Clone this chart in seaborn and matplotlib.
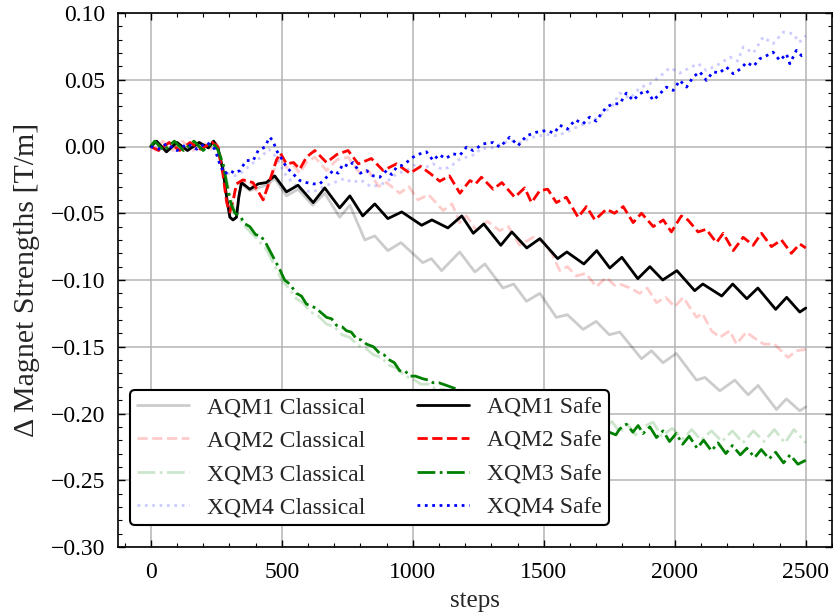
import matplotlib
matplotlib.use("Agg")
import matplotlib.pyplot as plt
import pandas as pd
import seaborn as sns
from matplotlib.ticker import MultipleLocator

# (step, delta strength [T/m]) vertices for each magnet and agent
aqm1_classical = [
    (0, 0.0), (22, 0.004), (60, -0.004), (100, 0.003), (140, -0.003), (185, 0.003),
    (220, -0.001), (240, 0.004), (257, -0.0015), (276, -0.018), (291, -0.040),
    (302, -0.053), (314, -0.055), (327, -0.053), (336, -0.038), (346, -0.028),
    (378, -0.033), (441, -0.029), (473, -0.024), (518, -0.037), (562, -0.032),
    (618, -0.044), (664, -0.035), (721, -0.053), (760, -0.044), (817, -0.070),
    (855, -0.067), (905, -0.078), (955, -0.072), (1038, -0.087), (1071, -0.084),
    (1110, -0.093), (1179, -0.079), (1237, -0.094), (1275, -0.088), (1344, -0.106),
    (1385, -0.103), (1434, -0.116), (1485, -0.110), (1548, -0.128), (1590, -0.126),
    (1650, -0.137), (1700, -0.131), (1750, -0.141), (1790, -0.139), (1873, -0.159),
    (1911, -0.153), (1955, -0.162), (2006, -0.155), (2083, -0.175), (2115, -0.173),
    (2172, -0.183), (2229, -0.175), (2280, -0.186), (2318, -0.179), (2388, -0.197),
    (2426, -0.189), (2477, -0.198), (2500, -0.195),
]
aqm2_classical = [
    (0, 0.0), (20, -0.003), (45, 0.004), (85, -0.003), (120, 0.004), (160, -0.003),
    (200, 0.003), (230, -0.002), (250, 0.003), (262, -0.002), (275, -0.020),
    (290, -0.042), (302, -0.049), (315, -0.040), (327, -0.028), (352, -0.026),
    (390, -0.029), (429, -0.040), (455, -0.027), (480, -0.012), (495, -0.007),
    (518, -0.016), (545, -0.014), (569, -0.020), (594, -0.012), (626, -0.008),
    (671, -0.018), (710, -0.010), (753, -0.008), (798, -0.020), (830, -0.018),
    (870, -0.030), (900, -0.027), (950, -0.035), (985, -0.030), (1020, -0.040),
    (1060, -0.036), (1116, -0.048), (1150, -0.043), (1179, -0.057), (1205, -0.052),
    (1243, -0.063), (1285, -0.056), (1332, -0.063), (1365, -0.060), (1408, -0.074),
    (1459, -0.068), (1500, -0.072), (1530, -0.080), (1561, -0.093), (1590, -0.090),
    (1625, -0.097), (1660, -0.095), (1701, -0.105), (1739, -0.098), (1770, -0.104),
    (1790, -0.103), (1830, -0.106), (1866, -0.110), (1895, -0.106), (1930, -0.117),
    (1965, -0.113), (2000, -0.120), (2032, -0.113), (2083, -0.128), (2105, -0.125),
    (2140, -0.138), (2172, -0.143), (2210, -0.138), (2235, -0.148), (2273, -0.139),
    (2300, -0.143), (2340, -0.148), (2380, -0.148), (2432, -0.158), (2464, -0.153),
    (2500, -0.152),
]
xqm3_classical = [
    (0, 0.0), (15, 0.004), (50, -0.003), (90, 0.004), (125, -0.003), (165, 0.004),
    (200, -0.003), (235, 0.003), (255, -0.002), (276, -0.012), (291, -0.026),
    (310, -0.042), (330, -0.052), (360, -0.060), (400, -0.068), (441, -0.077),
    (470, -0.088), (500, -0.100), (530, -0.107), (556, -0.114), (580, -0.117),
    (610, -0.124), (640, -0.127), (671, -0.133), (700, -0.135), (730, -0.141),
    (760, -0.143), (790, -0.149), (820, -0.151), (850, -0.156), (880, -0.158),
    (910, -0.164), (940, -0.166), (970, -0.172), (1000, -0.174), (1030, -0.178),
    (1060, -0.178), (1090, -0.182), (1120, -0.182), (1150, -0.185), (1250, -0.190),
    (1350, -0.195), (1450, -0.199), (1550, -0.203), (1650, -0.207), (1700, -0.204),
    (1730, -0.211), (1760, -0.206), (1790, -0.214), (1820, -0.208), (1850, -0.216),
    (1880, -0.210), (1917, -0.2065), (1950, -0.217), (1990, -0.211), (2030, -0.219),
    (2065, -0.212), (2100, -0.220), (2140, -0.213), (2180, -0.221), (2220, -0.213),
    (2260, -0.222), (2300, -0.213), (2340, -0.221), (2380, -0.212), (2420, -0.222),
    (2455, -0.212), (2500, -0.222),
]
xqm4_classical = [
    (0, 0.0), (30, -0.002), (60, 0.002), (100, -0.003), (140, 0.002), (175, -0.002),
    (215, 0.003), (245, -0.002), (265, -0.012), (290, -0.020), (320, -0.022),
    (350, -0.019), (380, -0.014), (420, -0.008), (450, -0.002), (480, -0.008),
    (510, -0.020), (545, -0.028), (580, -0.033), (620, -0.034), (660, -0.030),
    (700, -0.027), (740, -0.024), (770, -0.027), (800, -0.025), (840, -0.030),
    (874, -0.029), (910, -0.025), (938, -0.0205), (975, -0.018), (1014, -0.013),
    (1045, -0.016), (1078, -0.013), (1110, -0.017), (1141, -0.0155), (1175, -0.010),
    (1205, -0.008), (1243, -0.0055), (1256, -0.0017), (1300, -0.001), (1340, 0.002),
    (1370, 0.0045), (1410, 0.003), (1459, 0.007), (1510, 0.009), (1550, 0.008),
    (1600, 0.012), (1640, 0.016), (1680, 0.018), (1720, 0.024), (1760, 0.030),
    (1790, 0.040), (1830, 0.036), (1866, 0.044), (1905, 0.047), (1940, 0.052),
    (1981, 0.059), (2020, 0.055), (2057, 0.059), (2090, 0.062), (2120, 0.057),
    (2172, 0.062), (2210, 0.067), (2240, 0.064), (2261, 0.0745), (2300, 0.070),
    (2337, 0.082), (2375, 0.077), (2414, 0.0857), (2452, 0.0845), (2475, 0.078),
    (2500, 0.083),
]

aqm1_safe = [
    (0, 0.0), (22, 0.004), (60, -0.004), (100, 0.003), (140, -0.003), (185, 0.003),
    (220, -0.001), (240, 0.004), (257, -0.0015), (276, -0.018), (291, -0.040),
    (302, -0.053), (314, -0.055), (327, -0.053), (336, -0.038), (346, -0.027),
    (378, -0.032), (410, -0.028), (441, -0.027), (473, -0.022), (518, -0.034),
    (562, -0.029), (620, -0.042), (664, -0.031), (721, -0.046), (760, -0.037),
    (809, -0.052), (855, -0.043), (905, -0.054), (958, -0.049), (1034, -0.059),
    (1073, -0.055), (1134, -0.061), (1187, -0.052), (1231, -0.065), (1271, -0.058),
    (1336, -0.074), (1378, -0.064), (1435, -0.076), (1485, -0.069), (1553, -0.084),
    (1588, -0.079), (1653, -0.088), (1702, -0.078), (1752, -0.091), (1798, -0.083),
    (1859, -0.099), (1905, -0.090), (1954, -0.100), (2008, -0.093), (2076, -0.108),
    (2107, -0.103), (2179, -0.112), (2221, -0.103), (2275, -0.114), (2317, -0.106),
    (2385, -0.122), (2427, -0.113), (2477, -0.124), (2500, -0.121),
]
aqm2_safe = [
    (0, 0.0), (30, -0.003), (70, 0.003), (110, -0.003), (150, 0.003), (190, -0.002),
    (235, 0.003), (255, 0.0), (275, -0.020), (290, -0.042), (302, -0.049),
    (315, -0.040), (327, -0.028), (352, -0.025), (390, -0.027), (429, -0.040),
    (455, -0.025), (480, -0.010), (495, -0.005), (518, -0.013), (545, -0.012),
    (569, -0.017), (594, -0.008), (626, -0.003), (671, -0.012), (710, -0.006),
    (753, -0.003), (792, -0.013), (842, -0.009), (887, -0.018), (938, -0.013),
    (989, -0.020), (1030, -0.015), (1065, -0.020), (1103, -0.026), (1140, -0.022),
    (1180, -0.035), (1218, -0.0255), (1240, -0.028), (1262, -0.023), (1307, -0.032),
    (1340, -0.027), (1389, -0.038), (1427, -0.031), (1453, -0.042), (1485, -0.033),
    (1515, -0.032), (1548, -0.042), (1586, -0.038), (1631, -0.053), (1663, -0.045),
    (1695, -0.055), (1739, -0.047), (1770, -0.050), (1803, -0.045), (1841, -0.057),
    (1873, -0.050), (1918, -0.060), (1956, -0.055), (1987, -0.064), (2025, -0.052),
    (2050, -0.055), (2089, -0.064), (2120, -0.062), (2159, -0.072), (2185, -0.065),
    (2223, -0.078), (2261, -0.068), (2299, -0.074), (2331, -0.065), (2369, -0.075),
    (2407, -0.070), (2445, -0.080), (2477, -0.073), (2500, -0.076),
]
xqm3_safe = [
    (0, 0.0), (15, 0.004), (50, -0.003), (90, 0.004), (125, -0.003), (165, 0.004),
    (200, -0.003), (235, 0.003), (255, -0.002), (276, -0.013), (291, -0.029),
    (305, -0.042), (321, -0.050), (340, -0.052), (360, -0.058), (378, -0.060),
    (400, -0.066), (420, -0.067), (441, -0.073), (465, -0.082), (492, -0.092),
    (511, -0.100), (530, -0.103), (556, -0.110), (575, -0.112), (594, -0.118),
    (630, -0.121), (671, -0.128), (690, -0.129), (709, -0.134), (730, -0.135),
    (747, -0.138), (765, -0.139), (785, -0.144), (805, -0.145), (823, -0.148),
    (850, -0.150), (874, -0.155), (890, -0.156), (912, -0.160), (930, -0.162),
    (950, -0.168), (970, -0.168), (989, -0.172), (1010, -0.172), (1039, -0.174),
    (1060, -0.175), (1078, -0.177), (1100, -0.177), (1129, -0.179), (1200, -0.184),
    (1300, -0.190), (1400, -0.196), (1500, -0.201), (1600, -0.206), (1700, -0.210),
    (1775, -0.216), (1790, -0.2115), (1815, -0.208), (1840, -0.214), (1860, -0.209),
    (1879, -0.215), (1905, -0.210), (1930, -0.218), (1955, -0.213), (1980, -0.221),
    (2005, -0.215), (2030, -0.223), (2055, -0.217), (2085, -0.226), (2110, -0.220),
    (2140, -0.228), (2165, -0.222), (2195, -0.230), (2220, -0.224), (2250, -0.231),
    (2275, -0.226), (2305, -0.233), (2330, -0.227), (2360, -0.234), (2385, -0.229),
    (2415, -0.237), (2440, -0.231), (2470, -0.238), (2500, -0.235),
]
xqm4_safe = [
    (0, 0.0), (30, -0.002), (60, 0.002), (100, -0.003), (140, 0.002), (175, -0.002),
    (215, 0.003), (245, -0.002), (263, -0.013), (282, -0.0205), (302, -0.018),
    (320, -0.020), (340, -0.018), (365, -0.0105), (391, -0.0105), (410, -0.003),
    (435, -0.0005), (454, 0.007), (467, 0.004), (480, -0.003), (499, -0.009),
    (518, -0.0155), (543, -0.0205), (569, -0.0255), (594, -0.027), (620, -0.028),
    (645, -0.028), (671, -0.023), (696, -0.018), (715, -0.020), (734, -0.013),
    (755, -0.015), (772, -0.012), (800, -0.020), (823, -0.018), (849, -0.022),
    (874, -0.023), (900, -0.018), (920, -0.021), (938, -0.0155), (960, -0.014),
    (976, -0.012), (1001, -0.008), (1027, -0.0055), (1052, -0.004), (1078, -0.0105),
    (1100, -0.006), (1125, -0.009), (1154, -0.0055), (1180, -0.0065), (1205, -0.0005),
    (1230, -0.003), (1269, 0.002), (1307, 0.003), (1332, -0.0005), (1370, 0.007),
    (1402, 0.0007), (1434, 0.008), (1472, 0.0107), (1510, 0.012), (1540, 0.010),
    (1561, 0.016), (1590, 0.013), (1620, 0.020), (1650, 0.017), (1675, 0.022),
    (1700, 0.019), (1714, 0.023), (1739, 0.0295), (1765, 0.032), (1790, 0.032),
    (1815, 0.040), (1841, 0.0345), (1866, 0.0395), (1892, 0.042), (1918, 0.0345),
    (1943, 0.0395), (1968, 0.0445), (1994, 0.042), (2019, 0.0495), (2045, 0.0445),
    (2070, 0.052), (2095, 0.056), (2121, 0.0495), (2146, 0.056), (2170, 0.055),
    (2197, 0.0595), (2223, 0.0545), (2250, 0.058), (2274, 0.063), (2300, 0.060),
    (2324, 0.0657), (2350, 0.068), (2375, 0.0707), (2401, 0.0644), (2426, 0.0694),
    (2439, 0.062), (2464, 0.072), (2484, 0.068), (2500, 0.069),
]

series = [
    ("AQM1 Classical", aqm1_classical, "black", "-", 0.2),
    ("AQM2 Classical", aqm2_classical, "red", "--", 0.2),
    ("XQM3 Classical", xqm3_classical, "green", "-.", 0.2),
    ("XQM4 Classical", xqm4_classical, "blue", ":", 0.2),
    ("AQM1 Safe", aqm1_safe, "black", "-", 1.0),
    ("AQM2 Safe", aqm2_safe, "red", "--", 1.0),
    ("XQM3 Safe", xqm3_safe, "green", "-.", 1.0),
    ("XQM4 Safe", xqm4_safe, "blue", ":", 1.0),
]

sns.set_theme(style="ticks")
plt.rcParams.update({
    "font.family": ["Liberation Serif", "DejaVu Serif"],
    "mathtext.fontset": "stix",
    "font.size": 17,
    "axes.labelsize": 17,
    "xtick.labelsize": 17,
    "ytick.labelsize": 17,
    "legend.fontsize": 17,
    "axes.edgecolor": "black",
    "axes.linewidth": 1.2,
    "xtick.color": "black",
    "ytick.color": "black",
})

fig = plt.figure(figsize=(8.33, 6.15), dpi=100)
ax = fig.add_axes([118 / 833, 1 - 547 / 615, (832 - 118) / 833, (547 - 13) / 615])

for label, pts, color, ls, alpha in series:
    df = pd.DataFrame(pts, columns=["steps", "value"])
    sns.lineplot(data=df, x="steps", y="value", ax=ax, color=color,
                 linestyle=ls, alpha=alpha, linewidth=2.0, label=label,
                 errorbar=None)

ax.set_xlim(-125, 2600)
ax.set_ylim(-0.30, 0.10)
ax.xaxis.set_major_locator(MultipleLocator(500))
ax.xaxis.set_minor_locator(MultipleLocator(100))
ax.yaxis.set_major_locator(MultipleLocator(0.05))
ax.yaxis.set_minor_locator(MultipleLocator(0.01))
ax.tick_params(which="both", direction="in", top=True, right=True)
ax.tick_params(which="major", length=5, width=1.0)
ax.tick_params(which="minor", length=2.8, width=0.8)
ax.tick_params(axis="x", which="major", pad=11)
ax.tick_params(axis="y", which="major", pad=9)
ax.grid(True, which="major", color="#b4b4b4", linewidth=1.1)
ax.set_axisbelow(True)

ax.set_xlabel("steps", fontsize=18, labelpad=5)
ax.set_ylabel("Δ Magnet Strengths [T/m]", fontsize=21.5, labelpad=8)

leg = ax.legend(ncol=2, loc="lower left", bbox_to_anchor=(0.0168, 0.0412),
                borderaxespad=0, frameon=True, fancybox=True, framealpha=1,
                edgecolor="black", handlelength=2.2, handletextpad=0.8,
                columnspacing=2.15, labelspacing=0.5, borderpad=0.28)
leg.get_frame().set_linewidth(1.5)

fig.savefig("out.png", dpi=100)
